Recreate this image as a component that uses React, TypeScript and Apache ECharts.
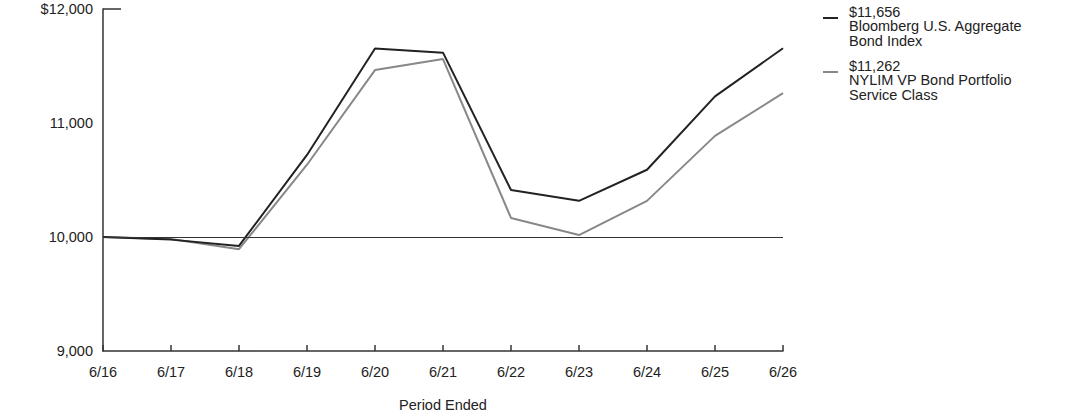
import React, { useEffect, useRef } from 'react';
import * as echarts from 'echarts';

const periods = ['6/16', '6/17', '6/18', '6/19', '6/20', '6/21', '6/22', '6/23', '6/24', '6/25', '6/26'];
const indexValues = [10000, 9977, 9922, 10720, 11654, 11617, 10412, 10317, 10590, 11233, 11656];
const fundValues = [10000, 9982, 9893, 10634, 11464, 11561, 10167, 10017, 10317, 10887, 11262];
const indexName = ['Bloomberg U.S. Aggregate', 'Bond Index'];
const fundName = ['NYLIM VP Bond Portfolio', 'Service Class'];

const FONT = 'Liberation Sans, Arial, sans-serif';
const SIZE = 14.5;
const fmt = (v: number) => '$' + v.toLocaleString('en-US');

const App: React.FC = () => {
  const chartRef = useRef<HTMLDivElement>(null);

  useEffect(() => {
    if (!chartRef.current) return;
    document.body.style.margin = '0';
    const chart = echarts.init(chartRef.current, undefined, { renderer: 'svg' });

    const legendItem = (top: number, value: number, name: string[], color: string) => [
      {
        type: 'line',
        shape: { x1: 823, y1: top + 14, x2: 838, y2: top + 14 },
        style: { stroke: color, lineWidth: 2 },
      },
      {
        type: 'text',
        left: 849,
        top: top,
        style: {
          text: [fmt(value), ...name].join('\n'),
          font: `${SIZE}px ${FONT}`,
          fill: '#222',
          lineHeight: 14.5,
        },
      },
    ];

    const option: echarts.EChartsOption = {
      animation: false,
      grid: { left: 103, right: 309, top: 9, bottom: 61 },
      xAxis: {
        type: 'category',
        boundaryGap: false,
        data: periods,
        name: 'Period Ended',
        nameLocation: 'middle',
        nameGap: 46,
        nameTextStyle: { color: '#222', fontFamily: FONT, fontSize: SIZE },
        axisLine: { lineStyle: { color: '#333', width: 1.5 } },
        axisTick: { inside: true, lineStyle: { color: '#333', width: 1.5 }, length: 6 },
        axisLabel: { color: '#222', fontFamily: FONT, fontSize: SIZE, margin: 13 },
        splitLine: { show: false },
      },
      yAxis: {
        type: 'value',
        min: 9000,
        max: 12000,
        interval: 1000,
        axisLine: { show: true, lineStyle: { color: '#333', width: 1.5 } },
        axisTick: { show: false },
        axisLabel: {
          color: '#222',
          fontFamily: FONT,
          fontSize: SIZE,
          margin: 10,
          formatter: (v: number) => (v === 12000 ? fmt(v) : v.toLocaleString('en-US')),
        },
        splitLine: { show: false },
      },
      series: [
        {
          name: fundName.join(' '),
          type: 'line',
          data: fundValues,
          symbol: 'none',
          lineStyle: { color: '#888', width: 2 },
          z: 3,
        },
        {
          name: indexName.join(' '),
          type: 'line',
          data: indexValues,
          symbol: 'none',
          lineStyle: { color: '#222', width: 2 },
          z: 4,
          markLine: {
            silent: true,
            symbol: 'none',
            label: { show: false },
            lineStyle: { color: '#333', width: 1, type: 'solid' },
            data: [{ yAxis: 10000 }],
          },
        },
      ],
      graphic: [
        {
          type: 'line',
          shape: { x1: 103, y1: 9, x2: 121, y2: 9 },
          style: { stroke: '#333', lineWidth: 1.5 },
        },
        ...legendItem(4, indexValues[indexValues.length - 1], indexName, '#222'),
        ...legendItem(58, fundValues[fundValues.length - 1], fundName, '#888'),
      ] as any,
    };

    chart.setOption(option);

    return () => {
      chart.dispose();
    };
  }, []);

  return <div ref={chartRef} style={{ width: '1092px', height: '417px' }} />;
};

export default App;
